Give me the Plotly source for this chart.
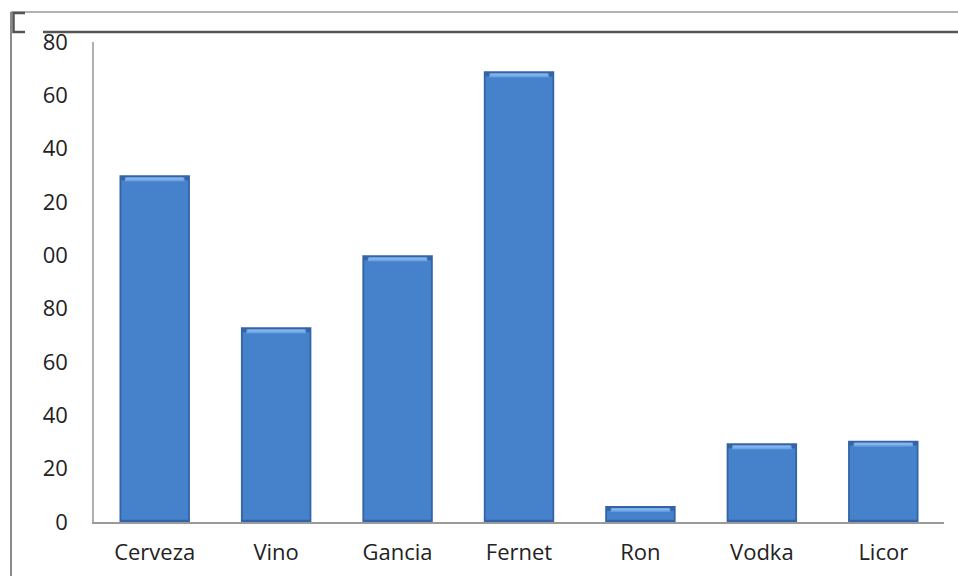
import plotly.graph_objects as go

categories = ["Cerveza", "Vino", "Gancia", "Fernet", "Ron", "Vodka", "Licor"]
values = [130, 73, 100, 169, 6, 29.5, 30.5]
tick_vals = [0, 20, 40, 60, 80, 100, 120, 140, 160, 180]
tick_text = ["0", "20", "40", "60", "80", "00", "20", "40", "60", "80"]

W, H = 958, 576
L, R, T, B = 94, 14, 42, 54
PW, PH = W - L - R, H - T - B


def xp(px):
    return (px - L) / PW


def yp(py):
    return (H - B - py) / PH


fig = go.Figure()
# dark edge
fig.add_trace(go.Bar(x=categories, y=values, width=0.58, marker=dict(color="#3464a6", line=dict(width=0)),
                     hoverinfo="skip"))
# body
fig.add_trace(go.Bar(x=categories, y=[v - 2.6 for v in values], base=[0.8] * len(values), width=0.55,
                     marker=dict(color="#4682cc", line=dict(width=0)), hoverinfo="skip"))
# top bevel highlight
fig.add_trace(go.Bar(x=categories, y=[1.4] * len(values), base=[v - 2.2 for v in values], width=0.49,
                     marker=dict(color="#6ea3e3", line=dict(width=0)), hoverinfo="skip"))
fig.add_trace(go.Bar(x=categories, y=[0.8] * len(values), base=[v - 1.6 for v in values], width=0.47,
                     marker=dict(color="#86b5ec", line=dict(width=0)), hoverinfo="skip"))

shapes = []
# outer frame lines
shapes.append(dict(type="line", xref="paper", yref="paper", x0=xp(11), x1=xp(958), y0=yp(12), y1=yp(12),
                   line=dict(color="#9a9a9a", width=1.5)))
shapes.append(dict(type="line", xref="paper", yref="paper", x0=xp(11), x1=xp(11), y0=yp(12), y1=yp(576),
                   line=dict(color="#8a8a8a", width=2)))
# dark line at top
shapes.append(dict(type="line", xref="paper", yref="paper", x0=xp(43), x1=xp(958), y0=yp(32), y1=yp(32),
                   line=dict(color="#555555", width=2.5)))
# bracket handle
shapes.append(dict(type="path", xref="paper", yref="paper",
                   path=f"M {xp(25)} {yp(13)} L {xp(13.5)} {yp(13)} L {xp(13.5)} {yp(32)} L {xp(25)} {yp(32)}",
                   line=dict(color="#555555", width=2.5)))

fig.update_layout(
    width=W, height=H,
    margin=dict(l=L, r=R, t=T, b=B),
    paper_bgcolor="white", plot_bgcolor="white",
    barmode="overlay",
    showlegend=False,
    shapes=shapes,
    font=dict(family="Open Sans", size=20, color="#222222"),
    xaxis=dict(showline=True, linecolor="#9a9a9a", linewidth=1.5, ticks="", showgrid=False,
               tickfont=dict(size=22), range=[-0.5, 6.5], ticklabelstandoff=10, automargin=False),
    yaxis=dict(showline=True, linecolor="#b0b0b0", linewidth=1.5, range=[0, 180], tickvals=tick_vals,
               ticktext=tick_text, showgrid=False, zeroline=False, ticks="",
               tickfont=dict(size=22), ticklabelstandoff=20, automargin=False),
)

fig.write_html("out.html")
